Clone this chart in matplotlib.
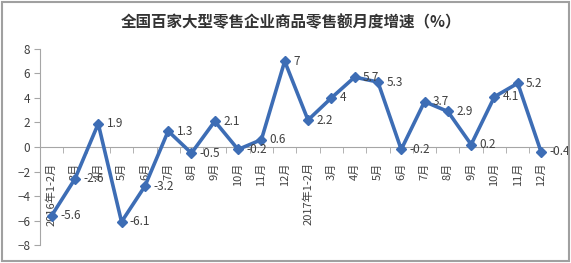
import matplotlib.pyplot as plt
from matplotlib.patches import Rectangle

plt.rcParams['font.family'] = ['Noto Sans CJK SC', 'DejaVu Sans']

months = ['2016年1-2月', '3月', '4月', '5月', '6月', '7月', '8月', '9月', '10月', '11月', '12月',
          '2017年1-2月', '3月', '4月', '5月', '6月', '7月', '8月', '9月', '10月', '11月', '12月']
growth = [-5.6, -2.6, 1.9, -6.1, -3.2, 1.3, -0.5, 2.1, -0.2, 0.6, 7,
          2.2, 4, 5.7, 5.3, -0.2, 3.7, 2.9, 0.2, 4.1, 5.2, -0.4]
value_labels = ['-5.6', '-2.6', '1.9', '-6.1', '-3.2', '1.3', '-0.5', '2.1', '-0.2', '0.6', '7',
                '2.2', '4', '5.7', '5.3', '-0.2', '3.7', '2.9', '0.2', '4.1', '5.2', '-0.4']
title = '全国百家大型零售企业商品零售额月度增速（%）'

line_color = '#3D6DB5'
text_color = '#404040'
axis_color = '#A6A6A6'

fig = plt.figure(figsize=(5.71, 2.63), dpi=100)
ax = fig.add_axes([0.070, 0.068, 0.898, 0.746])

x = list(range(len(growth)))
ax.plot(x, growth, color=line_color, linewidth=2.6, marker='D', markersize=5.5,
        markerfacecolor=line_color, markeredgecolor=line_color, zorder=3)

for xi, yi, lab in zip(x, growth, value_labels):
    ax.annotate(lab, (xi, yi), xytext=(6, 0), textcoords='offset points',
                ha='left', va='center', fontsize=8.5, color=text_color, zorder=4)

ax.set_xlim(-0.5, len(growth) - 0.5)
ax.set_ylim(-8, 8)
ax.set_yticks(range(-8, 9, 2))

for s in ['top', 'right']:
    ax.spines[s].set_visible(False)
ax.spines['bottom'].set_position(('data', 0))
ax.spines['bottom'].set_color(axis_color)
ax.spines['left'].set_color(axis_color)

ax.set_xticks(x)
ax.set_xticklabels(months, rotation=90, va='top', ha='center', fontsize=8, color=text_color)
ax.set_xticks([i - 0.5 for i in range(len(growth) + 1)], minor=True)
ax.tick_params(axis='x', which='major', length=0, pad=11)
ax.tick_params(axis='x', which='minor', length=4, color=axis_color, direction='out')
ax.tick_params(axis='y', length=4, color=axis_color, labelsize=8.5, labelcolor=text_color, pad=3)

fig.text(0.51, 0.915, title, ha='center', va='center', fontsize=11.2,
         fontweight='bold', color='#333333')

fig.patches.append(Rectangle((0.004, 0.008), 0.992, 0.984, transform=fig.transFigure,
                             fill=False, edgecolor='#A0A0A0', linewidth=1.5))

fig.savefig('out.png', dpi=100)
